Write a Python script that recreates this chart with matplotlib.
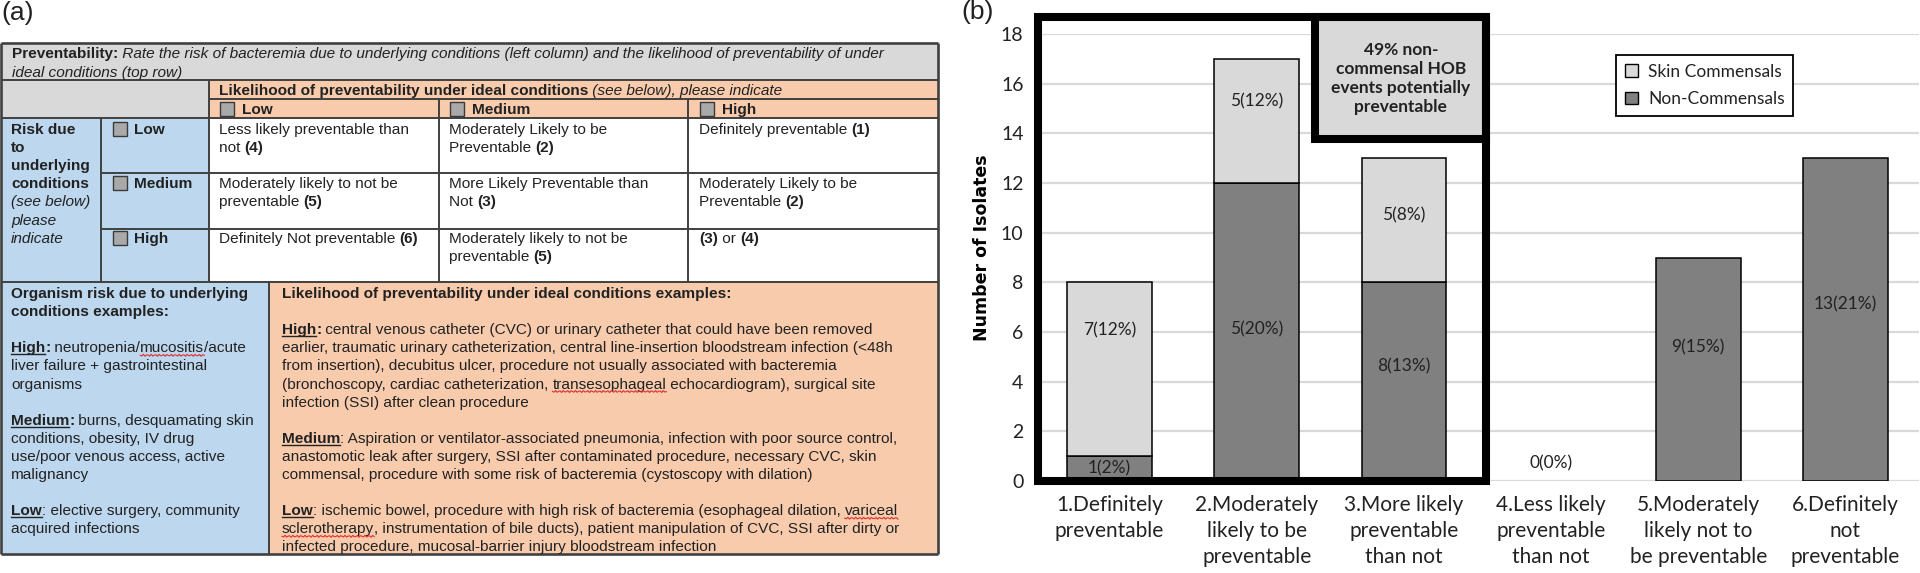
import re
import matplotlib
matplotlib.use("Agg")
import matplotlib.pyplot as plt
from matplotlib.patches import Rectangle, Patch
import numpy as np

# ---------------- data ----------------
categories = ["1.Definitely\npreventable",
              "2.Moderately\nlikely to be\npreventable",
              "3.More likely\npreventable\nthan not",
              "4.Less likely\npreventable\nthan not",
              "5.Moderately\nlikely not to\nbe preventable",
              "6.Definitely\nnot\npreventable"]
non_commensals = [1, 12, 8, 0, 9, 13]
skin_commensals = [7, 5, 5, 0, 0, 0]
non_labels = ["1(2%)", "5(20%)", "8(13%)", "0(0%)", "9(15%)", "13(21%)"]
skin_labels = ["7(12%)", "5(12%)", "5(8%)", "", "", ""]
y_ticks = list(range(0, 19, 2))
series_names = ["Skin Commensals", "Non-Commensals"]
annotation_text = "49% non-\ncommensal HOB\nevents potentially\npreventable"

# label vertical placement (as in the original layout)
non_label_y = [0.52, 6.1, 4.6, 0.72, 5.37, 7.1]
skin_label_y = [6.08, 15.3, 10.7, 0, 0, 0]

# table contents (markup: **bold**, //italic//, __bold underlined__, ~~spell-flagged~~)
header_lines = ["**Preventability:**// Rate the risk of bacteremia due to underlying conditions (left column) and the likelihood of preventability of under//",
                "//ideal conditions (top row)//"]
col_header = "**Likelihood of preventability under ideal conditions**// (see below), please indicate//"
levels = ["Low", "Medium", "High"]
risk_title = ["**Risk due**", "**to**", "**underlying**", "**conditions**", "//(see below)//", "//please//", "//indicate//"]
cells = [
    [["Less likely preventable than", "not **(4)**"], ["Moderately Likely to be", "Preventable **(2)**"], ["Definitely preventable **(1)**"]],
    [["Moderately likely to not be", "preventable **(5)**"], ["More Likely Preventable than", "Not **(3)**"], ["Moderately Likely to be", "Preventable **(2)**"]],
    [["Definitely Not preventable **(6)**"], ["Moderately likely to not be", "preventable **(5)**"], ["**(3)** or **(4)**"]],
]
organism_lines = ["**Organism risk due to underlying**", "**conditions examples:**", "",
                  "__High__**:** neutropenia/~~mucositis~~/acute", "liver failure + gastrointestinal", "organisms", "",
                  "__Medium__**:** burns, desquamating skin", "conditions, obesity, IV drug", "use/poor venous access, active", "malignancy", "",
                  "__Low__: elective surgery, community", "acquired infections"]
likelihood_lines = ["**Likelihood of preventability under ideal conditions examples:**", "",
                    "__High__**:** central venous catheter (CVC) or urinary catheter that could have been removed",
                    "earlier, traumatic urinary catheterization, central line-insertion bloodstream infection (<48h",
                    "from insertion), decubitus ulcer, procedure not usually associated with bacteremia",
                    "(bronchoscopy, cardiac catheterization, ~~transesophageal~~ echocardiogram), surgical site",
                    "infection (SSI) after clean procedure", "",
                    "__Medium__: Aspiration or ventilator-associated pneumonia, infection with poor source control,",
                    "anastomotic leak after surgery, SSI after contaminated procedure, necessary CVC, skin",
                    "commensal, procedure with some risk of bacteremia (cystoscopy with dilation)", "",
                    "__Low__: ischemic bowel, procedure with high risk of bacteremia (esophageal dilation, ~~variceal~~",
                    "~~sclerotherapy~~, instrumentation of bile ducts), patient manipulation of CVC, SSI after dirty or",
                    "infected procedure, mucosal-barrier injury bloodstream infection"]

# ---------------- style ----------------
LIGHT = "#d9d9d9"
DARK = "#808080"
GRID = "#d9d9d9"
ORANGE = "#f8cbad"
BLUE = "#bdd7ee"
HGREY = "#d9d9d9"
LINE = "#404040"
TCOL = "#222222"
TFONT = ["Liberation Sans", "DejaVu Sans"]
TSIZE = 11.1
CFONT = ["Lato", "DejaVu Sans"]

plt.rcParams["font.family"] = CFONT

W, H = 1920, 573
fig = plt.figure(figsize=(W / 100, H / 100), dpi=100)
renderer = fig.canvas.get_renderer()

# ================= panel (a): table =================
axT = fig.add_axes([0, 0, 0.5, 1])
axT.set_xlim(0, 960)
axT.set_ylim(H, 0)
axT.axis("off")

def rect(x0, y0, x1, y1, fc):
    axT.add_patch(Rectangle((x0, y0), x1 - x0, y1 - y0, fc=fc, ec="none", zorder=1))

def hline(y, x0, x1, lw=1.4):
    axT.plot([x0, x1], [y, y], color=LINE, lw=lw, zorder=3, solid_capstyle="butt")

def vline(x, y0, y1, lw=1.4):
    axT.plot([x, x], [y0, y1], color=LINE, lw=lw, zorder=3, solid_capstyle="butt")

def checkbox(x, yc):
    axT.add_patch(Rectangle((x, yc - 7), 14, 14, fc="#a9a9a9", ec="#3a3a3a", lw=1.0, zorder=4))

def text_width(s, **kw):
    t = axT.text(0, 0, s + "|", **kw)
    w1 = t.get_window_extent(renderer).width
    t.set_text("|")
    w2 = t.get_window_extent(renderer).width
    t.remove()
    return w1 - w2

def parse(s):
    out = []
    for p in re.split(r"(\*\*.*?\*\*|//.*?//|__.*?__|~~.*?~~)", s):
        if not p:
            continue
        if p.startswith("**"):
            out.append((p[2:-2], "b"))
        elif p.startswith("//"):
            out.append((p[2:-2], "i"))
        elif p.startswith("__"):
            out.append((p[2:-2], "u"))
        elif p.startswith("~~"):
            out.append((p[2:-2], "s"))
        else:
            out.append((p, "r"))
    return out

def draw_runs(x, yc, markup, size=TSIZE):
    y = yc + 5
    cx = x
    for txt, kind in parse(markup):
        kw = dict(fontsize=size, family=TFONT, color=TCOL, va="baseline", ha="left", zorder=5)
        if kind in ("b", "u"):
            kw["fontweight"] = "bold"
        if kind == "i":
            kw["fontstyle"] = "italic"
        axT.text(cx, y, txt, **kw)
        w = text_width(txt, **kw)
        if kind == "u":
            axT.plot([cx, cx + w], [y + 2, y + 2], color=TCOL, lw=1.0, zorder=5)
        if kind == "s":
            xs = np.linspace(cx, cx + w, max(int(w / 1.5), 4))
            ys = y + 3 + 1.0 * np.sin((xs - cx) * 2 * np.pi / 4.0)
            axT.plot(xs, ys, color="#e03030", lw=0.8, zorder=5)
        cx += w

# fills
rect(1, 43, 938, 80, HGREY)
rect(1, 80, 209, 118, HGREY)
rect(209, 80, 938, 118, ORANGE)
rect(1, 118, 209, 282, BLUE)
rect(209, 118, 938, 282, "white")
rect(1, 282, 269, 554, BLUE)
rect(269, 282, 938, 554, ORANGE)

# grid lines
hline(43, 1, 938, 1.9)
hline(80, 1, 938)
hline(99, 209, 938)
hline(118, 1, 938)
hline(173, 101, 938)
hline(229, 101, 938)
hline(282, 1, 938)
hline(554, 1, 938, 1.9)
vline(1, 43, 554, 1.9)
vline(938, 43, 554, 1.9)
vline(101, 118, 282)
vline(209, 80, 282)
vline(439, 99, 282)
vline(688, 99, 282)
vline(269, 282, 554)

# header text
draw_runs(12, 53, header_lines[0])
draw_runs(12, 72, header_lines[1])
draw_runs(219, 90, col_header)
col_x = [219, 449, 699]
for lvl, cxp in zip(levels, col_x):
    checkbox(cxp + 1, 109)
    draw_runs(cxp + 23, 109, "**" + lvl + "**")

# risk column
for i, ln in enumerate(risk_title):
    draw_runs(11, 129 + i * 18.1, ln)
row_y = [129, 183, 238]
for lvl, ry in zip(levels, row_y):
    checkbox(113, ry)
    draw_runs(134, ry, "**" + lvl + "**")

# cells
for r, ry in enumerate(row_y):
    for c, cxp in enumerate(col_x):
        for k, ln in enumerate(cells[r][c]):
            draw_runs(cxp, ry + k * 18.3, ln)

# bottom section
for i, ln in enumerate(organism_lines):
    if ln:
        draw_runs(11, 293 + i * 18.1, ln)
for i, ln in enumerate(likelihood_lines):
    if ln:
        draw_runs(282, 293 + i * 18.1, ln)

axT.text(1, 1, "(a)", fontsize=19, family=TFONT, color=TCOL, va="top", ha="left")

# ================= panel (b): bar chart =================
ax = fig.add_axes([1036 / W, (H - 481) / H, 883 / W, 447 / H])
x = np.arange(len(categories))
bw = 0.576
ax.bar(x, non_commensals, width=bw, color=DARK, edgecolor="black",
       linewidth=[1.1 if v > 0 else 0 for v in non_commensals], zorder=3)
ax.bar(x, skin_commensals, width=bw, bottom=non_commensals, color=LIGHT, edgecolor="black",
       linewidth=[1.1 if v > 0 else 0 for v in skin_commensals], zorder=3)

for xi, lab, yy in zip(x, non_labels, non_label_y):
    ax.text(xi, yy, lab, ha="center", va="center", fontsize=12.5, color=TCOL, zorder=6)
for xi, lab, yy in zip(x, skin_labels, skin_label_y):
    if lab:
        ax.text(xi, yy, lab, ha="center", va="center", fontsize=12.5, color=TCOL, zorder=6)

ax.set_xlim(-0.5, len(categories) - 0.5)
ax.set_ylim(0, 18)
ax.set_yticks(y_ticks)
ax.set_yticklabels([str(t) for t in y_ticks], fontsize=14, color=TCOL)
ax.set_xticks(x)
ax.set_xticklabels(categories, fontsize=15, color=TCOL, linespacing=1.38)
ax.tick_params(axis="both", length=0)
ax.tick_params(axis="y", pad=9)
ax.tick_params(axis="x", pad=10)
ax.yaxis.grid(True, color=GRID, lw=1.6, zorder=0)
ax.set_axisbelow(True)
for s in ax.spines.values():
    s.set_visible(False)

ax.text(-0.0612, 0.521, "Number of Isolates", transform=ax.transAxes, rotation=90,
        ha="center", va="center", fontsize=12.5, fontweight="bold",
        family=["DejaVu Sans"], color="black")

# thick frame around preventable categories and annotation box
box_l, box_r, box_t = -0.489, 2.561, 18.67
ax.add_patch(Rectangle((1.396, 13.77), box_r - 1.396, box_t - 13.77, fc=LIGHT, ec="black",
                       lw=5.8, clip_on=False, zorder=7, joinstyle="miter"))
ax.add_patch(Rectangle((box_l, 0), box_r - box_l, box_t, fill=False, ec="black",
                       lw=5.8, clip_on=False, zorder=8, joinstyle="miter"))
ax.text((1.396 + box_r) / 2, 16.2, annotation_text, ha="center", va="center",
        fontsize=12.5, fontweight="bold", color=TCOL, linespacing=1.22, zorder=9)

handles = [Patch(fc=LIGHT, ec="black", lw=1.0), Patch(fc=DARK, ec="black", lw=1.0)]
leg = ax.legend(handles, series_names, loc="upper left",
                bbox_to_anchor=(1616 / W, 1 - 55 / H), bbox_transform=fig.transFigure,
                frameon=True, fancybox=False, edgecolor="black", framealpha=1,
                borderaxespad=0, handlelength=0.75, handleheight=0.75, handletextpad=0.6,
                labelspacing=0.65, borderpad=0.5, prop={"family": CFONT, "size": 12.5})
leg.get_frame().set_linewidth(1.3)
for t in leg.get_texts():
    t.set_color(TCOL)

fig.text(961 / W, 1.0, "(b)", fontsize=19, family=TFONT, color=TCOL, va="top", ha="left")

fig.savefig("out.png", dpi=100)
